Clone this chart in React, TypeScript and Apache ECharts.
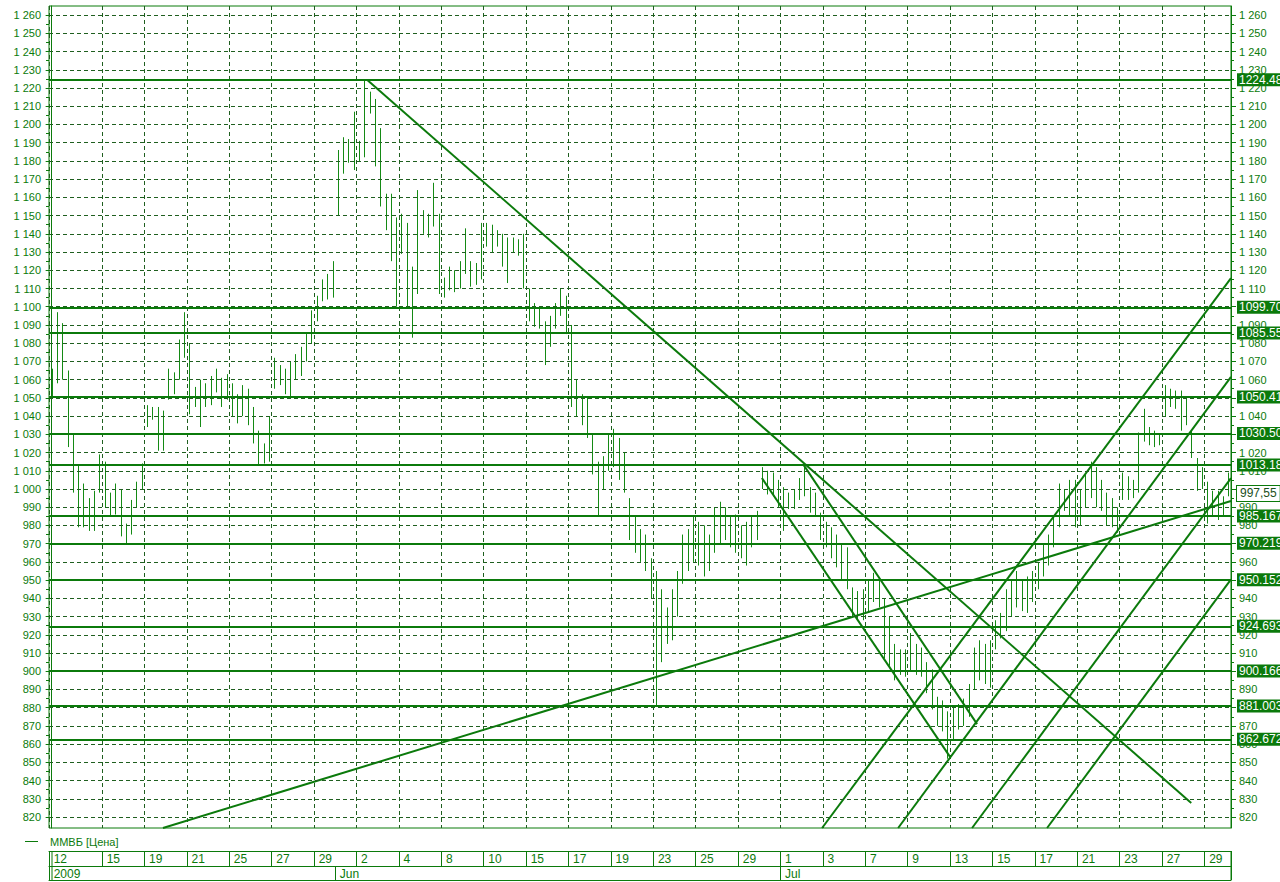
import React, { useEffect, useRef } from 'react';
import * as echarts from 'echarts';

// ---------- data ----------
const tradingDays = [
  '2009-05-12', '2009-05-13', '2009-05-14', '2009-05-15', '2009-05-18', '2009-05-19', '2009-05-20', '2009-05-21', '2009-05-22',
  '2009-05-25', '2009-05-26', '2009-05-27', '2009-05-28', '2009-05-29',
  '2009-06-01', '2009-06-02', '2009-06-03', '2009-06-04', '2009-06-05', '2009-06-08', '2009-06-09', '2009-06-10', '2009-06-11',
  '2009-06-15', '2009-06-16', '2009-06-17', '2009-06-18', '2009-06-19', '2009-06-22', '2009-06-23', '2009-06-24', '2009-06-25',
  '2009-06-26', '2009-06-29', '2009-06-30',
  '2009-07-01', '2009-07-02', '2009-07-03', '2009-07-06', '2009-07-07', '2009-07-08', '2009-07-09', '2009-07-10', '2009-07-13',
  '2009-07-14', '2009-07-15', '2009-07-16', '2009-07-17', '2009-07-20', '2009-07-21', '2009-07-22', '2009-07-23', '2009-07-24',
  '2009-07-27', '2009-07-28', '2009-07-29', '2009-07-30',
];
const BARS_PER_DAY = 4;
const FIRST_SLOT = 2; // the window opens in the third quarter of 12 May

const barHigh = [
  1066, 1097, 1091, 1065, 1030, 1013, 1003, 995, 999, 1019,
  1015, 998, 1003, 1000, 981, 994, 1004, 1014, 1046, 1045,
  1045, 1043, 1066, 1064, 1082, 1097, 1080, 1056, 1060, 1058,
  1062, 1066, 1061, 1063, 1058, 1052, 1057, 1055, 1045, 1032,
  1025, 1040, 1072, 1068, 1066, 1070, 1074, 1078, 1085, 1098,
  1106, 1115, 1118, 1125, 1186, 1193, 1192, 1207, 1191, 1224.5,
  1218, 1214, 1198, 1162, 1162, 1149, 1151, 1146, 1122, 1164,
  1153, 1151, 1168, 1151, 1116, 1122, 1120, 1125, 1143, 1125,
  1124, 1146, 1146, 1145, 1142, 1140, 1138, 1138, 1137, 1140,
  1110, 1102, 1100, 1092, 1095, 1102, 1110, 1106, 1090, 1060,
  1052, 1050, 1030, 1015, 1018, 1030, 1033, 1028, 1020, 995,
  985, 978, 975, 962, 955, 945, 935, 945, 955, 975,
  978, 985, 982, 980, 975, 990, 993, 990, 985, 986,
  980, 982, 985, 988, 1012, 1010, 1009, 1005, 1001, 998,
  1000, 1006, 1014, 1001, 998, 987, 982, 979, 975, 970,
  968, 946, 944, 945, 950, 954, 950, 940, 930, 915,
  912, 912, 921, 915, 913, 905, 901, 886, 884, 878,
  880, 882, 885, 893, 913, 917, 915, 917, 928, 932,
  945, 950, 955, 950, 952, 955, 960, 970, 975, 985,
  1003, 1000, 1005, 1005, 1000, 1008, 1015, 1012, 1005, 998,
  995, 990, 1009, 1007, 1005, 1031, 1044, 1034, 1032, 1030,
  1057, 1055, 1054, 1054, 1050, 1032, 1017, 1012, 1004, 999,
  999, 996, 1009,
];
const barLow = [
  1050, 1058, 1060, 1023, 998, 979, 979, 977, 977, 998,
  990, 985, 986, 974, 970, 975, 990, 1000, 1034, 1038,
  1021, 1021, 1049, 1052, 1060, 1072, 1041, 1045, 1034, 1045,
  1046, 1053, 1045, 1049, 1040, 1036, 1040, 1035, 1025, 1013,
  1014, 1015, 1055, 1057, 1052, 1050, 1060, 1062, 1070, 1080,
  1092, 1103, 1104, 1105, 1150, 1173, 1179, 1175, 1180, 1182,
  1206, 1177, 1155, 1142, 1125, 1100, 1129, 1100, 1083, 1107,
  1140, 1138, 1144, 1107, 1105, 1109, 1108, 1110, 1118, 1111,
  1112, 1115, 1133, 1130, 1133, 1122, 1113, 1130, 1128, 1110,
  1092, 1089, 1088, 1068, 1078, 1088, 1095, 1085, 1045, 1040,
  1035, 1028, 1008, 985, 1000, 1010, 1012, 1005, 998, 972,
  965, 960, 955, 940, 881, 905, 915, 917, 930, 948,
  955, 960, 958, 952, 955, 965, 970, 972, 968, 965,
  962, 958, 968, 972, 1000, 997, 996, 990, 977, 989,
  989, 994, 996, 987, 985, 972, 968, 962, 957, 950,
  945, 930, 928, 928, 932, 938, 935, 907, 903, 895,
  898, 897, 900, 898, 897, 888, 879, 870, 867, 852,
  862, 868, 870, 875, 890, 895, 893, 891, 912, 918,
  922, 930, 935, 933, 932, 938, 945, 952, 958, 968,
  979, 988, 985, 979, 980, 990, 995, 990, 988, 980,
  979, 976, 994, 994, 995, 998, 1026, 1024, 1023, 1024,
  1040, 1045, 1044, 1032, 1035, 1017, 999, 1000, 981, 985,
  983, 985, 996,
];
const lastPrice = 997.55;

// horizontal support / resistance levels
const levels = [
  1224.483, 1099.708, 1085.55, 1050.41, 1030.5, 1013.18, 985.1672,
  970.2191, 950.1527, 924.6937, 900.1665, 881.003, 862.6722,
];

// trend lines: [bar position, value] end points
const trendFromPeak = [[59.5, 1224.5], [215, 827.7]];
const trendChannelUpper = [[141.8, 1013.5], [174.6, 871]];
const trendChannelLower = [[134, 1006], [169.5, 853]];
const trendSupport = [[21, 814], [222.5, 993.4]];
const trendRise1 = [[145.35, 814], [222.5, 1115.7]];
const trendRise2 = [[159.7, 814], [222.5, 1061.5]];
const trendRise3 = [[173.65, 814], [222.5, 1006]];
const trendRise4 = [[187.8, 814], [222.5, 950.4]];
const trendLines = [
  trendFromPeak, trendChannelUpper, trendChannelLower, trendSupport,
  trendRise1, trendRise2, trendRise3, trendRise4,
];

// axis ticks / labels
const yTicks = [
  820, 830, 840, 850, 860, 870, 880, 890, 900, 910, 920, 930, 940, 950, 960,
  970, 980, 990, 1000, 1010, 1020, 1030, 1040, 1050, 1060, 1070, 1080, 1090,
  1100, 1110, 1120, 1130, 1140, 1150, 1160, 1170, 1180, 1190, 1200, 1210,
  1220, 1230, 1240, 1250, 1260,
];
const yMinorTicks = yTicks.map((v) => v + 5).filter((v) => v < 1265);
const labelDates = [
  '2009-05-12', '2009-05-15', '2009-05-19', '2009-05-21', '2009-05-25', '2009-05-27', '2009-05-29',
  '2009-06-02', '2009-06-04', '2009-06-08', '2009-06-10', '2009-06-15', '2009-06-17', '2009-06-19',
  '2009-06-23', '2009-06-25', '2009-06-29', '2009-07-01', '2009-07-03', '2009-07-07', '2009-07-09',
  '2009-07-13', '2009-07-15', '2009-07-17', '2009-07-21', '2009-07-23', '2009-07-27', '2009-07-29',
];
const monthStartDates = ['2009-05-12', '2009-06-01', '2009-07-01'];
const monthLabels = ['2009', 'Jun', 'Jul'];

// ---------- build categories ----------
const categories: string[] = [];
tradingDays.forEach((d, di) => {
  for (let q = 0; q < BARS_PER_DAY; q++) {
    const g = di * BARS_PER_DAY + q;
    if (g < FIRST_SLOT) continue;
    if (categories.length >= barHigh.length) continue;
    categories.push(`${d}|${q}`);
  }
});

const GREEN = '#0b7a0b';
const BAR = '#148a14';
const GRID = '#1f5f1f';
const FONT = '"Liberation Sans", Arial, sans-serif';

const isDayLabel = (index: number, value: string) => {
  const [d, q] = String(value).split('|');
  return index === 0 || (q === '0' && labelDates.includes(d));
};
const isMonthStart = (index: number, value: string) => {
  const [d, q] = String(value).split('|');
  return index === 0 || (q === '0' && monthStartDates.includes(d));
};
const fmtY = (v: number) =>
  v >= 1000 ? `${Math.floor(v / 1000)} ${String(v % 1000).padStart(3, '0')}` : String(v);

export default function App() {
  const ref = useRef<HTMLDivElement>(null);
  useEffect(() => {
    document.body.style.margin = '0';
    const chart = echarts.init(ref.current!, null, { renderer: 'svg' });
    const yBase = { type: 'value', min: 814, max: 1265, splitLine: { show: false } };
    const option: any = {
      animation: false,
      backgroundColor: '#ffffff',
      textStyle: { fontFamily: FONT },
      grid: { left: 49, right: 49, top: 6, bottom: 54, show: true, borderColor: GREEN, borderWidth: 1, backgroundColor: 'transparent' },
      xAxis: [
        {
          type: 'category', data: categories, position: 'bottom', boundaryGap: true,
          axisLine: { show: false, onZero: false }, axisTick: { show: false }, axisLabel: { show: false },
          splitLine: { show: true, interval: isDayLabel, lineStyle: { color: GRID, type: [4, 3], width: 1 } },
        },
        {
          type: 'category', data: categories, position: 'bottom', offset: 23, boundaryGap: true,
          axisLine: { show: true, onZero: false, lineStyle: { color: GREEN, width: 1 } },
          axisTick: { show: true, interval: isDayLabel, length: 15, lineStyle: { color: GREEN } },
          axisLabel: {
            show: true, interval: isDayLabel, align: 'left', padding: [0, 0, 0, 2], margin: 2,
            fontSize: 12, color: GREEN, fontFamily: FONT,
            formatter: (v: string) => String(Number(v.slice(8, 10))),
          },
          splitLine: { show: false },
        },
        {
          type: 'category', data: categories, position: 'bottom', offset: 38, boundaryGap: true,
          axisLine: { show: true, onZero: false, lineStyle: { color: GREEN, width: 1 } },
          axisTick: { show: true, interval: isMonthStart, length: 14, lineStyle: { color: GREEN } },
          axisLabel: {
            show: true, interval: isMonthStart, align: 'left', padding: [0, 0, 0, 2], margin: 2,
            fontSize: 12, color: GREEN, fontFamily: FONT,
            formatter: (v: string) => {
              const k = monthStartDates.indexOf(v.split('|')[0]);
              return k >= 0 ? monthLabels[k] : '';
            },
          },
          splitLine: { show: false },
        },
        {
          type: 'category', data: categories, position: 'bottom', offset: 52, boundaryGap: true,
          axisLine: { show: true, onZero: false, lineStyle: { color: GREEN, width: 1 } },
          axisTick: { show: false }, axisLabel: { show: false }, splitLine: { show: false },
        },
        { type: 'value', min: -0.5, max: barHigh.length - 0.5, show: false },
      ],
      yAxis: [
        {
          ...yBase, position: 'left',
          axisLine: { show: true, lineStyle: { color: GREEN } },
          axisTick: { show: true, customValues: yTicks, length: 6, lineStyle: { color: GREEN } },
          axisLabel: { show: true, customValues: yTicks, formatter: fmtY, color: GREEN, fontSize: 11, margin: 8, fontFamily: FONT },
        },
        {
          ...yBase, position: 'right',
          axisLine: { show: true, lineStyle: { color: GREEN } },
          axisTick: { show: true, customValues: yTicks, length: 5, lineStyle: { color: GREEN } },
          axisLabel: { show: true, customValues: yTicks, formatter: fmtY, color: GREEN, fontSize: 11, margin: 8, fontFamily: FONT },
        },
        {
          ...yBase, position: 'left',
          axisLine: { show: false },
          axisTick: { show: true, customValues: yMinorTicks, length: 3, lineStyle: { color: GREEN } },
          axisLabel: { show: false },
        },
        {
          ...yBase, position: 'right',
          axisLine: { show: false },
          axisTick: { show: true, customValues: yMinorTicks, length: 3, lineStyle: { color: GREEN } },
          axisLabel: { show: false },
        },
      ],
      graphic: [
        { type: 'line', shape: { x1: 25, y1: 841.5, x2: 38, y2: 841.5 }, style: { stroke: GREEN, lineWidth: 1 } },
        {
          type: 'text', x: 50, y: 842,
          style: { text: 'ММВБ [Цена]', fill: GREEN, fontSize: 11, fontFamily: FONT, verticalAlign: 'middle' },
        },
        { type: 'line', shape: { x1: 49.5, y1: 851, x2: 49.5, y2: 880 }, style: { stroke: GREEN, lineWidth: 1 } },
        { type: 'line', shape: { x1: 52, y1: 851, x2: 52, y2: 880 }, style: { stroke: GREEN, lineWidth: 1 } },
        { type: 'line', shape: { x1: 1231, y1: 851, x2: 1231, y2: 880 }, style: { stroke: GREEN, lineWidth: 1 } },
      ],
      series: [
        {
          name: 'grid', type: 'line', xAxisIndex: 4, yAxisIndex: 0, data: [[0, lastPrice]],
          symbol: 'none', lineStyle: { opacity: 0 }, z: 1, silent: true,
          markLine: {
            silent: true, symbol: ['none', 'none'], label: { show: false }, animation: false,
            lineStyle: { color: GRID, type: [4, 3], width: 1 },
            data: yTicks.map((v) => ({ yAxis: v })),
          },
        },
        {
          name: 'ММВБ [Цена]', type: 'custom', xAxisIndex: 0, yAxisIndex: 0, z: 2, clip: true,
          data: barHigh.map((h, i) => [i, h, barLow[i]]),
          encode: { x: 0, y: [1, 2] },
          renderItem: (params: any, api: any) => {
            const i = api.value(0);
            const top = api.coord([i, api.value(1)]);
            const bot = api.coord([i, api.value(2)]);
            const x = Math.round(top[0]) + 0.5;
            return {
              type: 'line',
              shape: { x1: x, y1: top[1], x2: x, y2: bot[1] },
              style: { stroke: BAR, lineWidth: 1 },
            };
          },
        },
        ...trendLines.map((t) => ({
          type: 'line', xAxisIndex: 4, yAxisIndex: 0, data: t, symbol: 'none', silent: true, z: 3,
          lineStyle: { color: GREEN, width: 2 },
        })),
        {
          name: 'levels', type: 'line', xAxisIndex: 4, yAxisIndex: 0, data: [[0, lastPrice]],
          symbol: 'none', lineStyle: { opacity: 0 }, z: 4, silent: true,
          markLine: {
            silent: true, symbol: ['none', 'none'], animation: false,
            lineStyle: { color: GREEN, width: 2, type: 'solid' },
            label: {
              show: true, position: 'end', distance: 6,
              formatter: (p: any) => levels[p.dataIndex].toPrecision(7),
              color: '#ffffff', backgroundColor: GREEN, padding: [1, 2, 0, 2],
              fontSize: 12, fontFamily: FONT,
            },
            data: levels.map((v) => ({ yAxis: v })),
          },
        },
        {
          name: 'last', type: 'line', xAxisIndex: 4, yAxisIndex: 0, data: [[0, lastPrice]],
          symbol: 'none', lineStyle: { opacity: 0 }, z: 5, silent: true,
          markLine: {
            silent: true, symbol: ['none', 'none'], animation: false,
            lineStyle: { color: 'rgba(255,255,255,0)', width: 1, type: 'solid', opacity: 1 },
            label: {
              show: true, position: 'end', distance: 6, opacity: 1,
              formatter: () => lastPrice.toFixed(2).replace('.', ','),
              color: '#1c4f1c', backgroundColor: '#ffffff', borderColor: GREEN, borderWidth: 1,
              padding: [2, 3, 1, 3], fontSize: 12, fontFamily: FONT,
            },
            data: [{ yAxis: lastPrice }],
          },
        },
      ],
    };
    chart.setOption(option);
    return () => chart.dispose();
  }, []);
  return <div ref={ref} style={{ width: 1280, height: 882, background: '#fff' }} />;
}
